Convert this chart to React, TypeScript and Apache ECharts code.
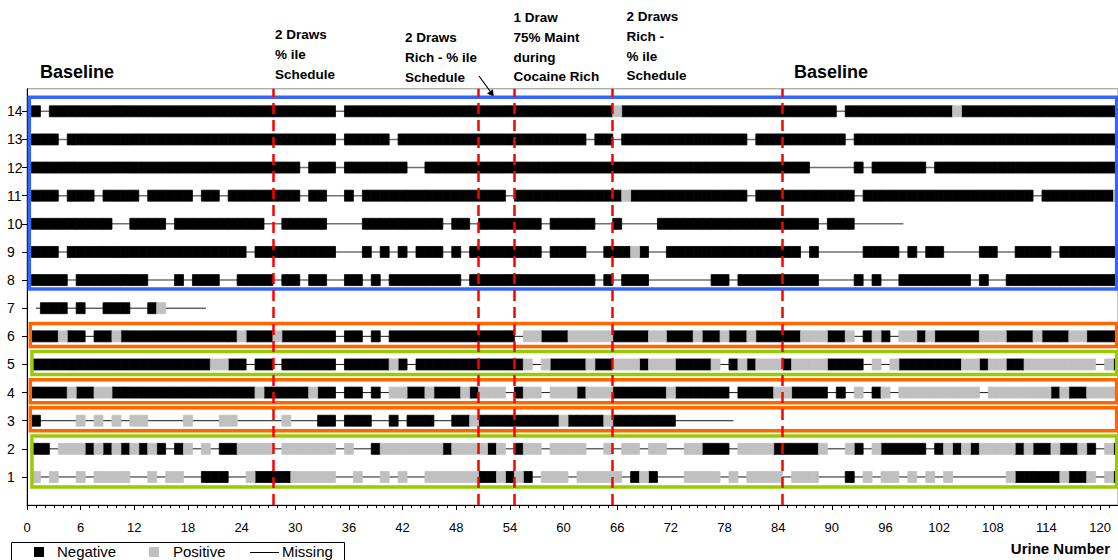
import React, { useEffect, useRef } from "react";
import * as echarts from "echarts";

// ---- data ----
const rowNumbers = [1, 2, 3, 4, 5, 6, 7, 8, 9, 10, 11, 12, 13, 14];
const xMax = 122;
const xTickStep = 6;
const phaseChanges = [27.5, 50.5, 54.5, 65.5, 84.5];
const legendNames = ["Negative", "Positive", "Missing"];

// Run codes per row: N = negative, P = positive, M = missing; "a-b" = urine numbers a..b
const row1 = "P1 M2 P3 M4-5 P6 M7 P8-11 M12-13 P14 M15 P16-17 M18-19 N20-22 M23-24 P25 N26-29 P30-34 M35-36 P37 M38-39 P40 M41 P42 M43-44 P45-50 N51-52 P53 N54 P55 N56 M57 P58-60 M61 P62-66 M67 N68 P69 N70 M71-73 P74-77 M78 P79 M80 P81-84 M85 P86-88 M89-91 N92 M93 P94 M95 P96-97 M98 P99 M100 P101 M102 P103 M104-109 P110 N111-115 P116 N117-118 P119 M120 P121 N122";
const row2 = "N1-2 M3 P4-6 N7 P8 N9 P10 N11 P12 N13 P14 N15 M16 N17 P18 M19 P20 M21 N22-23 P24-27 M28 P29-34 M35 P36 M37-38 N39 P40-46 N47 P48-51 N52 P53 M54 N55 P56-57 M58 P59-62 M63-64 P65 M66 P67-68 M69 P70-71 M72-73 P74-75 N76-78 M79 P80-83 N84-88 P89 M90-91 P92 N93 M94 P95 N96-100 M101 N102 P103 N104 P105 N106 P107-110 N111 P112 N113-114 P115 N116-117 P118 N119 M120 P121 N122";
const row3 = "N1 M2-5 P6 M7 P8 M9 P10 M11 P12-13 M14-17 P18 M19-21 P22-23 M24-28 P29 M30-32 N33-34 M35 N36-38 M39-40 N41 M42 N43-45 M46-47 N48-49 P50 N51-59 P60 N61-64 P65 N66-72 M73-79";
const row4 = "N1-4 P5 N6-7 P8-9 N10-25 P26 N27-31 P32 N33-34 M35 N36-37 M38 N39 M40 P41-42 N43-44 P45 N46-48 P49 N50 P51-53 M54 N55 P56-57 M58 P59-61 N62 P63-65 N66-71 P72 N73-78 M79 N80-83 P84-85 N86-89 M90 N91 M92 P93 M94 N95 P96 M97 P98-106 M107 P108-114 N115 P116 N117-118 P119-122";
const row5 = "N1-20 P21-22 N23-24 M25 N26-27 M28 N29-34 M35 N36-40 P41 N42 M43 N44-55 P56 M57 P58 N59-62 P63 N64-65 P66-68 N69 P70-72 N73-76 P77 M78 N79 P80 N81 P82-84 N85 P86-89 N90-93 M94 P95 M96 P97 N98-104 P105-106 N107 P108-109 N110-111 P112-119 M120 P121 N122";
const row6 = "N1-3 P4 N5-6 M7 N8-9 P10 N11-23 P24 N25-27 P28 N29-34 M35 N36-37 M38 N39 M40 N41-54 M55 P56-57 N58-60 P61-65 N66-69 P70-71 N72-74 P75 N76-77 P78 N79-80 P81 N82-86 P87-89 N90-91 P92 M93 N94 P95 N96 M97 P98-99 N100 P101 N102-106 P107-109 N110-112 P113 N114-116 P117-118 N119-122";
const row7 = "M1 N2-4 M5 N6 M7-8 N9-11 M12-13 N14 P15 M16-20";
const row8 = "N1-4 M5 N6-13 M14-16 N17 M18 N19-21 M22-23 N24-27 M28 N29-30 M31 N32-33 M34-35 N36-37 M38 N39 M40 N41-48 M49 N50-63 M64 N65 M66 N67-69 M70-76 N77-78 M79 N80-88 M89-92 N93 M94 N95 M96-97 N98-105 M106 N107 M108-109 N110-122";
const row9 = "N1-3 M4 N5-24 M25 N26-34 M35-37 N38 M39 N40 M41 N42 M43 N44-46 M47 N48 M49 N50-57 M58 N59-62 M63-64 N65-67 P68 N69 M70-71 N72-86 M87 N88 M89-93 N94-97 M98 N99 M100 N101-102 M103-106 N107-108 M109-110 N111-114 M115 N116-122";
const row10 = "N1-9 M10-11 N12-15 M16 N17-26 M27-28 N29-33 M34-37 N38-46 M47 N48-49 M50 N51-57 M58 N59-63 M64-65 N66 M67-70 N71-88 M89 N90-92 M93-98";
const row11 = "N1-3 M4 N5-7 M8 N9-12 M13 N14-18 M19 N20-21 M22 N23-30 M31 N32-33 M34-35 N36 M37 N38-53 M54 N55-66 P67 N68-80 M81 N82-92 M93 N94-112 M113 N114-121 P122";
const row12 = "N1-30 M31 N32-34 M35 N36-42 M43-44 N45-87 M88-92 N93 M94 N95-100 M101 N102-122";
const row13 = "N1-3 M4 N5-34 M35 N36-40 M41 N42-62 M63 N64-65 M66 N67-80 M81 N82-91 M92 N93-122";
const row14 = "N1 M2 N3-34 M35 N36-65 P66 N67-90 M91 N92-103 P104 N105-122";

const rowCodes = [row1, row2, row3, row4, row5, row6, row7, row8, row9, row10, row11, row12, row13, row14];

// Outline frames around row groups: [rowFrom, rowTo, colour]
const frameGroups: [number, number, string][] = [
  [8, 14, "#3366FF"],
  [6, 6, "#FF6600"],
  [5, 5, "#99CC00"],
  [4, 4, "#FF6600"],
  [3, 3, "#FF6600"],
  [1, 2, "#99CC00"],
];

function parseRows() {
  const neg: number[][] = [];
  const pos: number[][] = [];
  const spans: number[][] = [];
  rowCodes.forEach((code, i) => {
    const row = rowNumbers[i];
    let first = Infinity;
    let last = -Infinity;
    code.trim().split(/\s+/).forEach((tok) => {
      const kind = tok[0];
      const parts = tok.slice(1).split("-").map(Number);
      const a = parts[0];
      const b = parts.length > 1 ? parts[1] : a;
      for (let x = a; x <= b; x++) {
        if (kind === "N") neg.push([x, row]);
        else if (kind === "P") pos.push([x, row]);
      }
      first = Math.min(first, a);
      last = Math.max(last, b);
    });
    spans.push([first, last, row]);
  });
  return { neg, pos, spans };
}

const FONT = "Arial, 'Liberation Sans', sans-serif";
const NEG_COLOR = "#000000";
const POS_COLOR = "#C0C0C0";

export default function App() {
  const ref = useRef<HTMLDivElement>(null);

  useEffect(() => {
    document.body.style.margin = "0";
    if (!ref.current) return;
    const chart = echarts.init(ref.current, undefined, { renderer: "svg" });
    const { neg, pos, spans } = parseRows();

    const cell = (fill: string) => (params: any, api: any) => {
      const x = api.value(0);
      const y = api.value(1);
      const p = api.coord([x - 0.5, y]);
      const s = api.size([1, 0.39]);
      return {
        type: "rect",
        shape: { x: p[0], y: p[1] - s[1] / 2, width: s[0], height: s[1] },
        style: { fill, stroke: fill, lineWidth: 0.8 },
      };
    };

    const frameData = frameGroups.map(([r0, r1, color]) => {
      const pad0 = r0 === 8 ? 0.32 : 0.36;
      return [
        {
          xAxis: color === "#3366FF" ? 0.26 : color === "#FF6600" ? 0.37 : 0.55,
          yAxis: r1 + (r1 === 14 ? 0.5 : 0.46),
          itemStyle: { color: "rgba(0,0,0,0)", borderColor: color, borderWidth: 3.5 },
        },
        { xAxis: 121.85, yAxis: r0 - pad0 },
      ];
    });

    const textStyleBold = (size: number) => ({
      fontFamily: FONT,
      fontWeight: "bold",
      fontSize: size,
      fill: "#000",
    });

    const annot = (x: number, y: number, text: string) => ({
      type: "text",
      left: x,
      top: y,
      style: { ...textStyleBold(13.5), text, lineHeight: 19.7 },
    });

    const legendText = (x: number, text: string) => ({
      type: "text",
      left: x,
      top: 544,
      z: 12,
      style: { text, fontFamily: FONT, fontSize: 15, fill: "#000" },
    });

    chart.setOption({
      animation: false,
      grid: {
        left: 27,
        right: 0,
        top: 88.8,
        bottom: 54.9,
        show: true,
        borderColor: "#8c8c8c",
        borderWidth: 1,
        outerBoundsMode: "none",
      },
      xAxis: {
        type: "value",
        min: 0,
        max: xMax,
        interval: xTickStep,
        axisLine: { lineStyle: { color: "#000", width: 1 } },
        axisTick: { length: 5, lineStyle: { color: "#000" } },
        minorTick: { show: true, splitNumber: xTickStep, length: 3, lineStyle: { color: "#000" } },
        axisLabel: { fontFamily: FONT, fontSize: 13, color: "#000", margin: 16, showMaxLabel: false },
        splitLine: { show: false },
      },
      yAxis: {
        type: "value",
        min: 0,
        max: 14.8,
        interval: 1,
        axisLine: { show: true, lineStyle: { color: "#000", width: 1 } },
        axisTick: { show: true, length: 5, lineStyle: { color: "#000" }, customValues: rowNumbers },
        axisLabel: {
          fontFamily: FONT,
          fontSize: 14,
          color: "#000",
          align: "left",
          margin: 20,
          customValues: rowNumbers,
        },
        splitLine: { show: false },
      },
      series: [
        {
          name: legendNames[2],
          type: "custom",
          data: spans,
          encode: { x: [0, 1], y: 2 },
          itemStyle: { color: "#000" },
          z: 2,
          renderItem: (params: any, api: any) => {
            const r = api.value(2);
            const p1 = api.coord([api.value(0), r]);
            const p2 = api.coord([api.value(1), r]);
            return {
              type: "line",
              shape: { x1: p1[0], y1: p1[1], x2: p2[0], y2: p2[1] },
              style: { stroke: r >= 8 ? "#707070" : "#1a1a1a", lineWidth: r >= 8 ? 1.5 : 1 },
            };
          },
        },
        {
          name: legendNames[0],
          type: "custom",
          data: neg,
          encode: { x: 0, y: 1 },
          itemStyle: { color: NEG_COLOR },
          z: 3,
          renderItem: cell(NEG_COLOR),
        },
        {
          name: legendNames[1],
          type: "custom",
          data: pos,
          encode: { x: 0, y: 1 },
          itemStyle: { color: POS_COLOR },
          z: 3,
          renderItem: cell(POS_COLOR),
        },
        {
          name: "frames",
          type: "line",
          data: [],
          z: 4,
          markArea: { silent: true, z: 4, label: { show: false }, data: frameData },
          markLine: {
            silent: true,
            z: 6,
            symbol: ["none", "none"],
            label: { show: false },
            lineStyle: { color: "#FF0000", width: 2.5, type: [11, 6] },
            data: phaseChanges.map((x) => ({ xAxis: x })),
          },
        },
      ],
      graphic: [
        { type: "text", left: 40, top: 63, style: { ...textStyleBold(18), text: "Baseline" } },
        { type: "text", left: 794, top: 63, style: { ...textStyleBold(18), text: "Baseline" } },
        annot(275, 25, "2 Draws\n% ile\nSchedule"),
        annot(405, 28, "2 Draws\nRich - % ile\nSchedule"),
        annot(513.6, 8, "1 Draw\n75% Maint\nduring\nCocaine Rich"),
        annot(626.6, 7, "2 Draws\nRich -\n% ile\nSchedule"),
        {
          type: "line",
          shape: { x1: 479, y1: 76, x2: 491, y2: 92.5 },
          style: { stroke: "#000", lineWidth: 1.2 },
        },
        {
          type: "polygon",
          shape: { points: [[494, 97], [487.1, 93.4], [492.7, 89.3]] },
          style: { fill: "#000" },
        },
        {
          type: "text",
          right: 8,
          top: 541,
          style: { ...textStyleBold(15), text: "Urine Number" },
        },
        // legend box
        {
          type: "rect",
          z: 10,
          shape: { x: 11.5, y: 542.5, width: 333, height: 30 },
          style: { fill: "none", stroke: "#000", lineWidth: 1 },
        },
        { type: "rect", z: 12, shape: { x: 34, y: 547, width: 10, height: 10 }, style: { fill: NEG_COLOR } },
        legendText(57, legendNames[0]),
        { type: "rect", z: 12, shape: { x: 149, y: 547, width: 10, height: 10 }, style: { fill: POS_COLOR } },
        legendText(173, legendNames[1]),
        {
          type: "line",
          z: 12,
          shape: { x1: 250, y1: 552.5, x2: 279, y2: 552.5 },
          style: { stroke: "#000", lineWidth: 1 },
        },
        legendText(282, legendNames[2]),
      ],
    });

    return () => chart.dispose();
  }, []);

  return <div ref={ref} style={{ width: 1118, height: 560 }} />;
}
